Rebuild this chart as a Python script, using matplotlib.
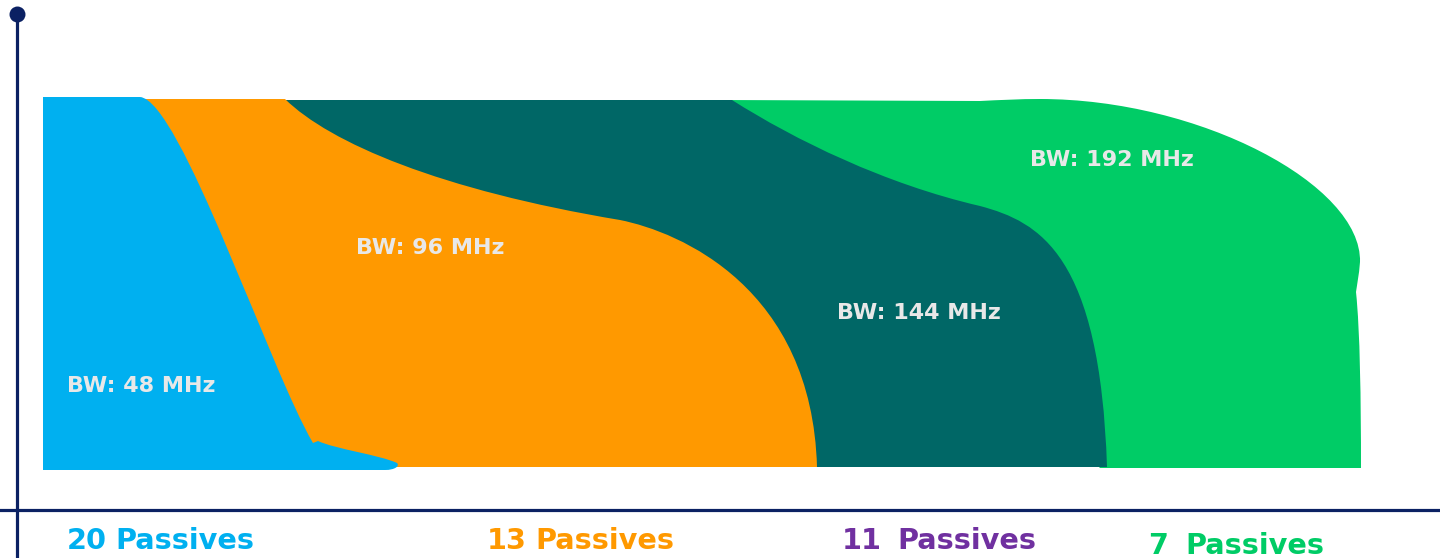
import matplotlib
matplotlib.use("Agg")
import matplotlib.pyplot as plt
from matplotlib.path import Path
from matplotlib.patches import PathPatch

# ---- data: band outlines (x right, y down), with path commands ----
# M = move, L = line, C = cubic Bezier point (two control points + end point)
blue_cmds = ["M", "L", "L", "C", "C", "C", "L", "C", "C", "C", "C", "C", "C", "L"]
blue_x = [43, 138, 140, 180, 270, 313, 318, 335, 380, 397, 400, 395, 385, 43]
blue_y = [97, 97, 97, 100, 370, 443, 441, 449, 455, 463, 466, 470, 470, 470]

orange_cmds = ["M", "L", "C", "C", "C", "C", "C", "C", "L"]
orange_x = [140, 285, 330, 440, 620, 680, 812, 817, 140]
orange_y = [99, 99, 143, 190, 220, 232, 288, 467, 467]

teal_cmds = ["M", "L", "C", "C", "C", "C", "C", "C", "L"]
teal_x = [280, 732, 795, 885, 980, 1040, 1100, 1107, 280]
teal_y = [100, 100, 140, 184, 206, 222, 255, 467, 467]

green_cmds = ["M", "L", "C", "C", "C", "C", "C", "C", "C", "C", "C", "C", "C", "C", "L"]
green_x = [720, 980, 1000, 1020, 1040, 1200, 1362, 1360, 1359, 1357, 1356, 1360, 1361, 1361, 1100]
green_y = [100, 101, 100, 99, 99, 99, 185, 262, 275, 285, 292, 330, 400, 468, 468]

bw_labels = ["BW: 48 MHz", "BW: 96 MHz", "BW: 144 MHz", "BW: 192 MHz"]
bw_x = [141, 430, 919, 1112]
bw_y = [392, 254, 319, 166]

count_numbers = ["20", "13", "11", "7"]
count_word = "Passives"
number_right_x = [107, 527, 882, 1168]
word_x = [115, 535, 897, 1185]
count_y = [549, 549, 549, 554]

band_colors = ["#00B0F0", "#FF9900", "#006766", "#00CC66"]
label_colors = ["#00B0F0", "#FF9900", "#7030A0", "#00CC66"]
axis_color = "#0B2163"
bw_text_color = "#E8E8E8"

fig = plt.figure(figsize=(14.4, 5.58), dpi=100)
ax = fig.add_axes([0, 0, 1, 1])
ax.set_xlim(0, 1440)
ax.set_ylim(558, 0)
ax.axis("off")

CODE = {"M": Path.MOVETO, "L": Path.LINETO, "C": Path.CURVE4}

def band(cmds, xs, ys, color, z):
    codes = [CODE[c] for c in cmds]
    verts = list(zip(xs, ys))
    verts.append(verts[0])
    codes.append(Path.CLOSEPOLY)
    ax.add_patch(PathPatch(Path(verts, codes), facecolor=color, edgecolor="none", zorder=z))

band(green_cmds, green_x, green_y, band_colors[3], 1)
band(teal_cmds, teal_x, teal_y, band_colors[2], 2)
band(orange_cmds, orange_x, orange_y, band_colors[1], 3)
band(blue_cmds, blue_x, blue_y, band_colors[0], 4)

# axes lines
ax.plot([17, 17], [14, 558], color=axis_color, lw=2.3, zorder=5, solid_capstyle="butt")
ax.plot([0, 1440], [510, 510], color=axis_color, lw=2.3, zorder=5)
ax.plot([17], [14], "o", color=axis_color, ms=11.5, mew=0, zorder=6)

for t, x, y in zip(bw_labels, bw_x, bw_y):
    ax.text(x, y, t, color=bw_text_color, fontsize=16, fontweight="bold",
            family="DejaVu Sans", ha="center", va="baseline", zorder=7)

for n, nx, wx, y, c in zip(count_numbers, number_right_x, word_x, count_y, label_colors):
    ax.text(nx, y, n, color=c, fontsize=20.7, fontweight="bold",
            family="DejaVu Sans", ha="right", va="baseline", zorder=7)
    ax.text(wx, y, count_word, color=c, fontsize=20.7, fontweight="bold",
            family="DejaVu Sans", ha="left", va="baseline", zorder=7)

fig.savefig("out.png", dpi=100)
